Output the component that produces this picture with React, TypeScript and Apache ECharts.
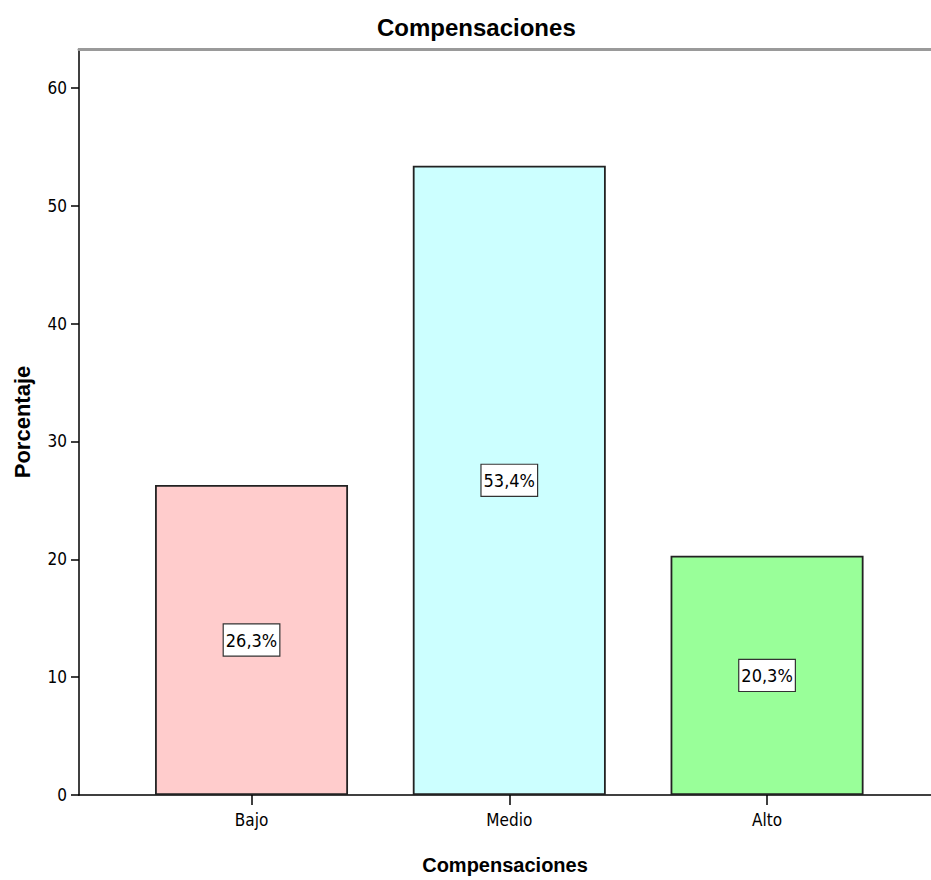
import React, { useEffect, useRef } from "react";
import * as echarts from "echarts";

const title = "Compensaciones";
const categories = ["Bajo", "Medio", "Alto"];
const percentages = [26.3, 53.4, 20.3];
const barColors = ["#ffcccc", "#ccffff", "#99ff99"];
const yTicks = [0, 10, 20, 30, 40, 50, 60];
const yAxisName = "Porcentaje";
const xAxisName = "Compensaciones";

const NARROW = "'Liberation Sans Narrow', 'DejaVu Sans Condensed', 'Arial Narrow', sans-serif";
const SANS = "'Liberation Sans', Arial, sans-serif";

export default function App() {
  const ref = useRef<HTMLDivElement>(null);
  useEffect(() => {
    if (!ref.current) return;
    const chart = echarts.init(ref.current, null, { renderer: "svg" });
    const positions = categories.map((_, i) => i + 1);
    const data = percentages.map((v, i) => ({
      value: [positions[i], v],
      itemStyle: { color: barColors[i] },
    }));
    chart.setOption({
      animation: false,
      backgroundColor: "#ffffff",
      title: {
        text: title,
        left: 372,
        top: 10,
        textStyle: { fontFamily: SANS, fontSize: 24, fontWeight: "bold", color: "#000" },
      },
      grid: { left: 79, top: 49, right: 0, bottom: 84, containLabel: false },
      xAxis: [
        {
          type: "value",
          min: 0.3307,
          max: 3.636,
          splitLine: { show: false },
          axisLine: { show: true, lineStyle: { color: "#000", width: 1.5 } },
          axisTick: {
            show: true,
            customValues: positions,
            length: 10,
            lineStyle: { color: "#000", width: 1.5 },
          },
          axisLabel: {
            customValues: positions,
            formatter: (v: number) => categories[Math.round(v) - 1] ?? "",
            margin: 16,
            fontFamily: NARROW,
            fontSize: 17,
            color: "#000",
          },
          name: xAxisName,
          nameLocation: "middle",
          nameGap: 60,
          nameTextStyle: { fontFamily: SANS, fontSize: 20, fontWeight: "bold", color: "#000" },
        },
        {
          type: "value",
          position: "top",
          min: 0,
          max: 1,
          axisLine: { show: true, lineStyle: { color: "#9a9a9a", width: 3 } },
          axisTick: { show: false },
          axisLabel: { show: false },
          splitLine: { show: false },
        },
      ],
      yAxis: {
        type: "value",
        min: 0,
        max: 63.3,
        splitLine: { show: false },
        axisLine: { show: true, lineStyle: { color: "#000", width: 1.5 } },
        axisTick: {
          show: true,
          customValues: yTicks,
          length: 8,
          lineStyle: { color: "#000", width: 1.5 },
        },
        axisLabel: {
          customValues: yTicks,
          margin: 12,
          fontFamily: NARROW,
          fontSize: 17,
          color: "#000",
        },
        name: yAxisName,
        nameLocation: "middle",
        nameRotate: 90,
        nameGap: 46,
        nameTextStyle: { fontFamily: SANS, fontSize: 22, fontWeight: "bold", color: "#000" },
      },
      series: [
        {
          type: "bar",
          xAxisIndex: 0,
          data,
          barWidth: 193,
          itemStyle: { borderColor: "#222", borderWidth: 1.8 },
          label: {
            show: true,
            position: "inside",
            formatter: (p: any) => String(p.value[1]).replace(".", ",") + "%",
            fontFamily: NARROW,
            fontSize: 18,
            color: "#000",
            backgroundColor: "#fff",
            borderColor: "#333",
            borderWidth: 1.2,
            padding: [7, 2, 6, 2],
          },
        },
      ],
    });
    return () => chart.dispose();
  }, []);
  return (
    <div
      ref={ref}
      style={{ position: "fixed", left: 0, top: 0, width: 931, height: 880 }}
    />
  );
}
